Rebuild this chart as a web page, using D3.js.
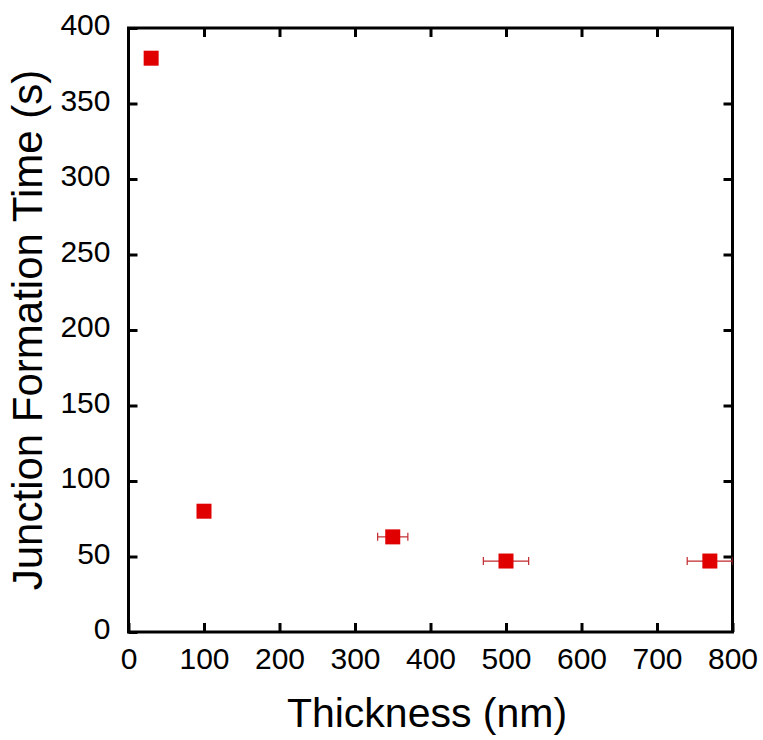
<!DOCTYPE html>
<html>
<head>
<meta charset="utf-8">
<script src="https://cdn.jsdelivr.net/npm/d3@7"></script>
<style>
  body { margin: 0; background: #fff; }
  svg text { font-family: "Liberation Sans", Arial, sans-serif; fill: #000; }
</style>
</head>
<body>
<svg id="chart" width="763" height="740"></svg>
<script>
// data
var thickness = [30, 100, 350, 500, 770];
var formationTime = [380, 80, 63, 47, 47];
var thicknessErr = [0, 0, 20, 30, 30];
var xTicks = [0, 100, 200, 300, 400, 500, 600, 700, 800];
var yTicks = [0, 50, 100, 150, 200, 250, 300, 350, 400];

var svg = d3.select("#chart"),
    m = {left: 128.5, right: 30.5, top: 28, bottom: 108},
    w = 763 - m.left - m.right,
    h = 740 - m.top - m.bottom;

var x = d3.scaleLinear().domain([0, 800]).range([0, w]);
var y = d3.scaleLinear().domain([0, 400]).range([h, 0]);

var g = svg.append("g").attr("transform", "translate(" + m.left + "," + m.top + ")");

// clip so the last error bar stops at the frame
g.append("clipPath").attr("id", "clip").append("rect").attr("width", w).attr("height", h);

var tickLen = 9;
function styleAxis(sel) {
  sel.select(".domain").remove();
  sel.selectAll(".tick line").attr("stroke", "#000").attr("stroke-width", 3);
}

g.append("g").attr("transform", "translate(0," + h + ")")
  .call(d3.axisBottom(x).tickValues(xTicks).tickSizeInner(-tickLen).tickPadding(16))
  .call(styleAxis)
  .selectAll("text").attr("font-size", 30).attr("dy", "0.71em");

g.append("g")
  .call(d3.axisTop(x).tickValues(xTicks.slice(1, -1)).tickSizeInner(-tickLen).tickFormat(""))
  .call(styleAxis);

g.append("g")
  .call(d3.axisLeft(y).tickValues(yTicks).tickSizeInner(-tickLen).tickPadding(18))
  .call(styleAxis)
  .selectAll("text").attr("font-size", 30).attr("dy", "0.22em");

g.append("g").attr("transform", "translate(" + w + ",0)")
  .call(d3.axisRight(y).tickValues(yTicks.slice(1, -1)).tickSizeInner(-tickLen).tickFormat(""))
  .call(styleAxis);

// frame
g.append("rect").attr("width", w).attr("height", h)
  .attr("fill", "none").attr("stroke", "#000").attr("stroke-width", 3);

// points
var pts = thickness.map(function(d, i) {
  return {x: d, y: formationTime[i], e: thicknessErr[i]};
});

var eb = g.append("g").attr("clip-path", "url(#clip)")
  .selectAll(".err").data(pts.filter(function(d) { return d.e > 0; }))
  .enter().append("g").attr("class", "err")
  .attr("stroke", "#c0282d").attr("stroke-width", 1.2);
eb.append("line")
  .attr("x1", function(d) { return x(d.x - d.e); })
  .attr("x2", function(d) { return x(d.x + d.e); })
  .attr("y1", function(d) { return y(d.y); })
  .attr("y2", function(d) { return y(d.y); });
eb.append("line")
  .attr("x1", function(d) { return x(d.x - d.e); })
  .attr("x2", function(d) { return x(d.x - d.e); })
  .attr("y1", function(d) { return y(d.y) - 4; })
  .attr("y2", function(d) { return y(d.y) + 4; });
eb.append("line")
  .attr("x1", function(d) { return x(d.x + d.e); })
  .attr("x2", function(d) { return x(d.x + d.e); })
  .attr("y1", function(d) { return y(d.y) - 4; })
  .attr("y2", function(d) { return y(d.y) + 4; });

var s = 15;
g.selectAll(".pt").data(pts).enter().append("rect").attr("class", "pt")
  .attr("x", function(d) { return x(d.x) - s / 2; })
  .attr("y", function(d) { return y(d.y) - s / 2; })
  .attr("width", s).attr("height", s)
  .attr("fill", "#e00000");

// axis titles
svg.append("text")
  .attr("x", 427).attr("y", 727)
  .attr("text-anchor", "middle").attr("font-size", 41)
  .text("Thickness (nm)");

svg.append("text")
  .attr("transform", "translate(42," + (m.top + h / 2) + ") rotate(-90)")
  .attr("text-anchor", "middle").attr("font-size", 42)
  .text("Junction Formation Time (s)");
</script>
</body>
</html>
